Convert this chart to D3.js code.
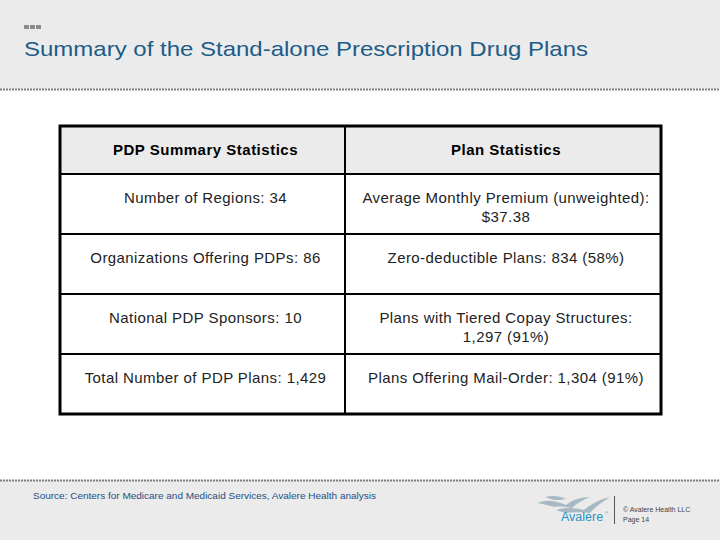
<!DOCTYPE html>
<html><head><meta charset="utf-8">
<script src="https://cdn.jsdelivr.net/npm/d3@7"></script>
<style>body{margin:0;background:#fff}svg{display:block}text{font-family:"Liberation Sans",Arimo,Arial,sans-serif}</style>
</head><body><svg id="c" width="720" height="540"></svg>
<script>
const title = "Summary of the Stand-alone Prescription Drug Plans";
const headers = ["PDP Summary Statistics", "Plan Statistics"];
const leftCol = [
  ["Number of Regions: 34"],
  ["Organizations Offering PDPs: 86"],
  ["National PDP Sponsors: 10"],
  ["Total Number of PDP Plans: 1,429"]
];
const rightCol = [
  ["Average Monthly Premium (unweighted):", "$37.38"],
  ["Zero-deductible Plans: 834 (58%)"],
  ["Plans with Tiered Copay Structures:", "1,297 (91%)"],
  ["Plans Offering Mail-Order: 1,304 (91%)"]
];
const source = "Source: Centers for Medicare and Medicaid Services, Avalere Health analysis";
const footerLines = ["© Avalere Health LLC", "Page 14"];

const svg = d3.select("#c");
// header band
svg.append("rect").attr("x",0).attr("y",0).attr("width",720).attr("height",89).attr("fill","#ebebeb");
svg.append("line").attr("x1",0).attr("x2",720).attr("y1",89.5).attr("y2",89.5)
  .attr("stroke","#7f7f7f").attr("stroke-width",2).attr("stroke-dasharray","2,1");
// footer band
svg.append("rect").attr("x",0).attr("y",480).attr("width",720).attr("height",60).attr("fill","#ebebeb");
svg.append("line").attr("x1",0).attr("x2",720).attr("y1",480.5).attr("y2",480.5)
  .attr("stroke","#7f7f7f").attr("stroke-width",2).attr("stroke-dasharray","2,1");
// small squares
[0,1,2].forEach(i=>svg.append("rect").attr("x",24+i*6).attr("y",25).attr("width",5).attr("height",4).attr("fill","#8c8c8c"));
svg.append("text").attr("x",24).attr("y",56).attr("font-size",21).attr("fill","#1b5c88")
  .attr("textLength",564).attr("lengthAdjust","spacingAndGlyphs").text(title);

// table
const X0=60, XM=345, X1=661, YT=126, YH=174, YB=414;
const y = d3.scaleBand().domain(d3.range(leftCol.length)).range([YH,YB]);
const colCenter = d3.scaleOrdinal().domain([0,1]).range([(X0+XM)/2+3,(XM+X1)/2+3]);
const g = svg.append("g");
g.append("rect").attr("x",X0).attr("y",YT).attr("width",X1-X0).attr("height",YH-YT).attr("fill","#ebebeb");
// header text
headers.forEach((h,i)=>g.append("text").attr("x",colCenter(i)).attr("y",155).attr("text-anchor","middle")
  .attr("font-size",15).attr("font-weight","bold").attr("letter-spacing",0.5).attr("fill","#000").text(h));
// body
[leftCol,rightCol].forEach((col,ci)=>{
  g.selectAll(null).data(col).enter().append("text")
    .attr("x",colCenter(ci)).attr("text-anchor","middle").attr("font-size",15).attr("letter-spacing",0.42).attr("fill","#222")
    .attr("y",(d,i)=>y(i)+29)
    .each(function(d){
      const t=d3.select(this);
      d.forEach((line,k)=>t.append("tspan").attr("x",colCenter(ci)).attr("dy",k?19:0).text(line));
    });
});
// inner lines
const hl = [YH].concat(d3.range(1,leftCol.length).map(i=>y(i)));
g.selectAll(null).data(hl).enter().append("line").attr("x1",X0).attr("x2",X1)
  .attr("y1",d=>d).attr("y2",d=>d).attr("stroke","#000").attr("stroke-width",2);
g.append("line").attr("x1",XM).attr("x2",XM).attr("y1",YT).attr("y2",YB).attr("stroke","#000").attr("stroke-width",2);
g.append("rect").attr("x",X0).attr("y",YT).attr("width",X1-X0).attr("height",YB-YT)
  .attr("fill","none").attr("stroke","#000").attr("stroke-width",3);

// footer
svg.append("text").attr("x",33).attr("y",499).attr("font-size",9).attr("fill","#1f4f82")
  .attr("textLength",343).attr("lengthAdjust","spacingAndGlyphs").text(source);
// logo birds
const lg = svg.append("g").attr("fill","#a7b9c4");
lg.append("path").attr("d","M537,503 C548,499 556,501 566,505 C572,500 580,497 590,497 C582,500 576,504 572,508 C566,507 560,506 554,507 C548,505 543,504 537,503Z");
lg.append("path").attr("d","M556,510 C566,507 576,508 584,510 C590,505 598,500 610,497 C601,503 594,508 590,513 C582,512 574,512 566,513 C562,512 559,511 556,510Z");
lg.append("path").attr("d","M545,497 C552,495 560,496 566,499 C562,500 558,500 554,500 C551,499 548,498 545,497Z");
svg.append("text").attr("x",561).attr("y",521).attr("font-size",12.5).attr("fill","#2a93c4").text("Avalere");
svg.append("text").attr("x",605).attr("y",514).attr("font-size",4).attr("fill","#2a93c4").text("®");
svg.append("line").attr("x1",614.5).attr("x2",614.5).attr("y1",496).attr("y2",524).attr("stroke","#555").attr("stroke-width",1);
footerLines.forEach((t,i)=>svg.append("text").attr("x",623).attr("y",512+i*9.5).attr("font-size",7).attr("fill","#444").text(t));
</script></body></html>
